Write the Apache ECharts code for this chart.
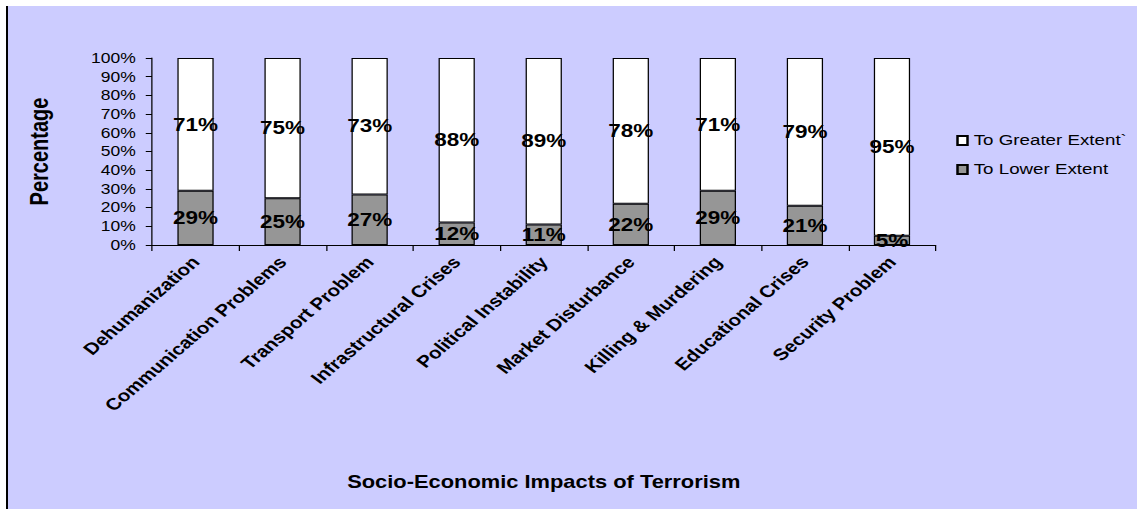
<!DOCTYPE html>
<html>
<head>
<meta charset="utf-8">
<script src="https://cdn.jsdelivr.net/npm/echarts@6/dist/echarts.min.js"></script>
<style>
  html, body { margin: 0; padding: 0; background: #ffffff; overflow: hidden; }
  #bg { position: absolute; left: 6px; top: 6px; width: 1131px; height: 503px; background: #ccccff; border-left: 2px solid #000; box-sizing: border-box; }
  /* the reference picture is horizontally stretched; reproduce that with a uniform x-scale */
  #chart { position: absolute; left: 0; top: 0; width: 910px; height: 509px; transform: scaleX(1.25); transform-origin: 0 0; }
</style>
</head>
<body>
<div id="bg"></div>
<div id="chart"></div>
<script>
const categories = ['Dehumanization', 'Communication Problems', 'Transport Problem', 'Infrastructural Crises', 'Political Instability', 'Market Disturbance', 'Killing & Murdering', 'Educational Crises', 'Security Problem'];
const lowerExtent = [29, 25, 27, 12, 11, 22, 29, 21, 5];
const greaterExtent = [71, 75, 73, 88, 89, 78, 71, 79, 95];
const yTicks = { min: 0, max: 100, interval: 10 };

const font = 'Liberation Sans, Arial, sans-serif';
const chart = echarts.init(document.getElementById('chart'), null, { renderer: 'svg' });
const labelStyle = { show: true, position: 'inside', formatter: '{c}%', color: '#000', fontFamily: font, fontWeight: 'bold', fontSize: 18 };
chart.setOption({
  backgroundColor: 'transparent',
  animation: false,
  textStyle: { fontFamily: font },
  grid: { left: 121.6, right: 161.6, top: 58, bottom: 264, containLabel: false },
  legend: {
    orient: 'vertical', left: 765, top: 133, padding: 0, itemWidth: 8, itemHeight: 9, itemGap: 14,
    icon: 'rect',
    textStyle: { fontFamily: font, fontSize: 15, color: '#000' },
    data: ['To Greater Extent`', 'To Lower Extent']
  },
  xAxis: {
    type: 'category', data: categories,
    name: 'Socio-Economic Impacts of Terrorism', nameLocation: 'middle', nameGap: 228,
    nameTextStyle: { fontFamily: font, fontWeight: 'bold', fontSize: 17.5, color: '#000' },
    axisLine: { lineStyle: { color: '#000', width: 1 } },
    axisTick: { show: true, length: 6, lineStyle: { color: '#000' } },
    axisLabel: { rotate: 47, interval: 0, margin: 14, fontFamily: font, fontWeight: 'bold', fontSize: 16.5, color: '#000' }
  },
  yAxis: {
    type: 'value', min: yTicks.min, max: yTicks.max, interval: yTicks.interval,
    name: 'Percentage', nameLocation: 'middle', nameGap: 80,
    nameTextStyle: { fontFamily: font, fontWeight: 'bold', fontSize: 20, color: '#000' },
    axisLine: { show: true, lineStyle: { color: '#000', width: 1 } },
    axisTick: { show: true, length: 5, lineStyle: { color: '#000' } },
    splitLine: { show: false },
    axisLabel: { formatter: '{value}%', margin: 13, fontFamily: font, fontSize: 14, color: '#000' }
  },
  series: [
    {
      name: 'To Lower Extent', type: 'bar', stack: 'total', data: lowerExtent, barWidth: 29,
      itemStyle: { color: '#969696', borderColor: '#000', borderWidth: 1 },
      label: labelStyle
    },
    {
      name: 'To Greater Extent`', type: 'bar', stack: 'total', data: greaterExtent, barWidth: 29,
      itemStyle: { color: '#ffffff', borderColor: '#000', borderWidth: 1 },
      label: labelStyle
    }
  ]
});
</script>
</body>
</html>
